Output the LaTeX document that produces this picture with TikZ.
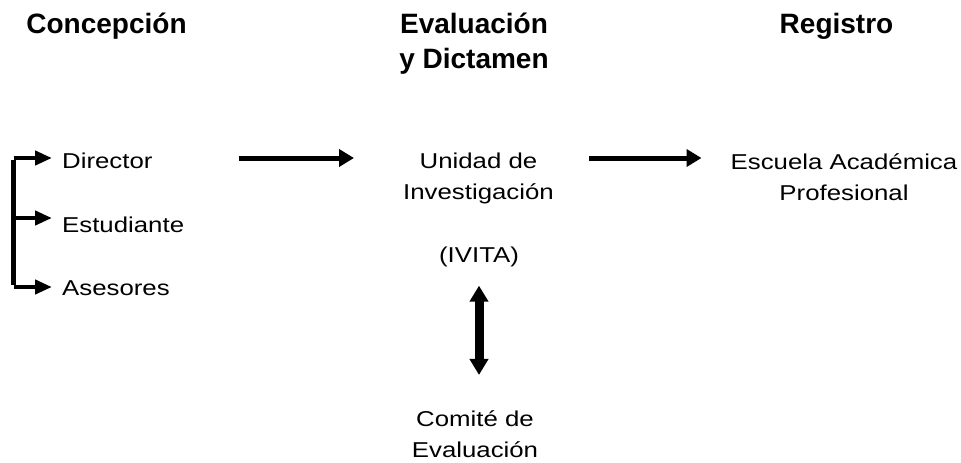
\documentclass[tikz,border=0pt]{standalone}
\usepackage{fontspec}
\setmainfont{Liberation Sans}
\newfontfamily\regf[FakeStretch=1.2]{Liberation Sans}
\usetikzlibrary{arrows.meta}
\begin{document}
\begin{tikzpicture}[x=1pt,y=-1pt,
  head/.style={font=\fontsize{28}{35}\selectfont\bfseries, align=center, inner sep=0pt, anchor=base},
  lbl/.style={font=\regf\fontsize{21.5}{31}\selectfont, align=center, inner sep=0pt, anchor=base},
  thinarr/.style={line width=4.5pt, -{Triangle[length=17pt,width=14pt]}},
  midarr/.style={line width=5pt, -{Triangle[length=15pt,width=17pt]}},
  dblarr/.style={line width=9pt, {Triangle[length=16pt,width=18pt]}-{Triangle[length=16pt,width=18pt]}}]
\useasboundingbox (0,0) rectangle (961,463);
% headers (anchor=base sits on the last line)
\node[head] (conc) at (106.5,33) {Concepción};
\node[head] (eval) at (474,68) {Evaluación\\y Dictamen};
\node[head] (reg) at (836.5,33) {Registro};
% left column
\node[lbl, anchor=base west] (dir) at (62,168) {Director};
\node[lbl, anchor=base west] (est) at (62,232) {Estudiante};
\node[lbl, anchor=base west] (ase) at (62,295) {Asesores};
% middle
\node[lbl] (uni) at (478.5,199) {Unidad de\\Investigación};
\node[lbl] (ivita) at (479,262) {(IVITA)};
\node[lbl] (com) at (475,457) {Comité de\\Evaluación};
% right
\node[lbl] (esc) at (844,200) {Escuela Académica\\Profesional};
% bracket
\coordinate (bD) at (13.5,158);
\coordinate (bE) at (13.5,218);
\coordinate (bA) at (13.5,287);
\draw[line width=4.5pt] ([yshift=-2.25pt]bD) -- ([yshift=2.25pt]bA);
\draw[thinarr, shorten >=10pt] (bD) -- (bD -| dir.west);
\draw[thinarr, shorten >=10pt] (bE) -- (bE -| est.west);
\draw[thinarr, shorten >=10pt] (bA) -- (bA -| ase.west);
% horizontal arrows
\coordinate (row) at (0,158);
\draw[midarr, shorten <=86pt, shorten >=49pt] (row -| dir.east) -- (row -| uni.west);
\draw[midarr, shorten <=35pt, shorten >=29pt] (row -| uni.east) -- (row -| esc.west);
% vertical double arrow
\draw[dblarr, shorten <=19pt, shorten >=35pt] (ivita.south) -- (ivita.south |- com.north);
\end{tikzpicture}
\end{document}
